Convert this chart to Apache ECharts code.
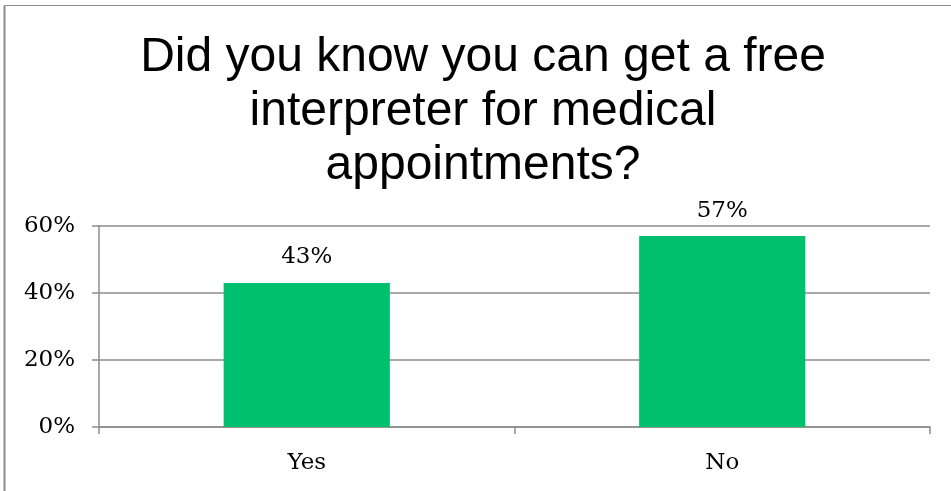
<!DOCTYPE html>
<html>
<head>
<meta charset="utf-8">
<script src="https://cdn.jsdelivr.net/npm/echarts@6/dist/echarts.min.js"></script>
<style>
html,body{margin:0;padding:0;background:#fff;}
#chart{width:951px;height:491px;}
</style>
</head>
<body>
<div id="chart"></div>
<script>
const titleText = "Did you know you can get a free\ninterpreter for medical\nappointments?";
const categories = ["Yes", "No"];
const values = [43, 57];
const yTicks = [0, 20, 40, 60];

const chart = echarts.init(document.getElementById('chart'), null, {renderer: 'canvas'});
const axisGray = '#8c8c8c';
const serif = '"DejaVu Serif", serif';
chart.setOption({
  animation: false,
  backgroundColor: '#ffffff',
  title: {
    text: titleText,
    left: 483,
    top: 31,
    padding: 0,
    textAlign: 'center',
    textStyle: {
      fontFamily: '"Liberation Sans", Arial, sans-serif',
      fontSize: 48,
      fontWeight: 'normal',
      lineHeight: 54,
      color: '#000'
    }
  },
  graphic: [
    {type: 'line', shape: {x1: 4.5, y1: 5.5, x2: 951, y2: 5.5}, style: {stroke: '#8c8c8c', lineWidth: 1}},
    {type: 'line', shape: {x1: 4.5, y1: 5.5, x2: 4.5, y2: 491}, style: {stroke: '#8c8c8c', lineWidth: 2}}
  ],
  grid: {left: 99, right: 21, top: 226, bottom: 64, containLabel: false},
  xAxis: {
    type: 'category',
    data: categories,
    axisLine: {lineStyle: {color: axisGray, width: 1.5}},
    axisTick: {show: true, length: 7, alignWithLabel: false, lineStyle: {color: axisGray, width: 1.5}},
    axisLabel: {fontFamily: serif, fontSize: 23, color: '#000', margin: 25}
  },
  yAxis: {
    type: 'value',
    min: yTicks[0],
    max: yTicks[yTicks.length - 1],
    interval: yTicks[1] - yTicks[0],
    axisLine: {show: true, lineStyle: {color: axisGray, width: 1.5}},
    axisTick: {show: true, length: 7, inside: false, lineStyle: {color: axisGray, width: 1.5}},
    splitLine: {show: true, lineStyle: {color: axisGray, width: 1.5}},
    axisLabel: {fontFamily: serif, fontSize: 23, color: '#000', margin: 24, formatter: '{value}%'}
  },
  series: [{
    type: 'bar',
    data: values,
    barWidth: '40%',
    itemStyle: {color: '#00BF6F'},
    label: {
      show: true,
      position: 'top',
      distance: 14,
      formatter: '{c}%',
      fontFamily: serif,
      fontSize: 23,
      color: '#000'
    }
  }]
});
</script>
</body>
</html>
